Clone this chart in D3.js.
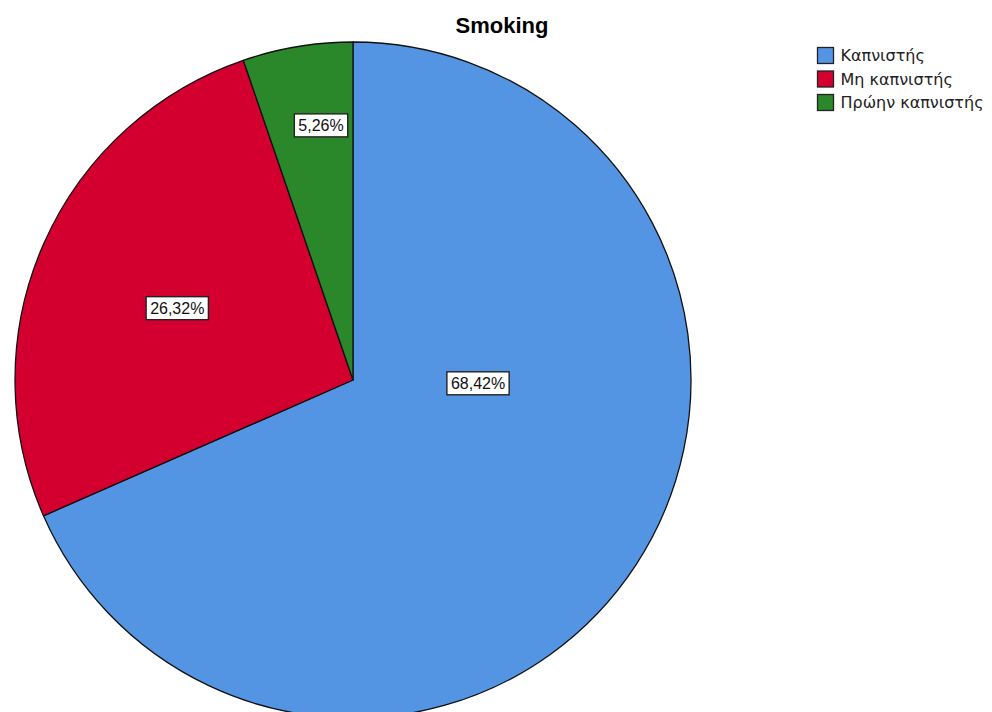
<!DOCTYPE html>
<html><head><meta charset="utf-8">
<script src="https://cdn.jsdelivr.net/npm/d3@7"></script>
<style>body{margin:0;background:#fff;} svg{display:block;}</style>
</head><body>
<svg id="chart" width="992" height="712"></svg>
<script>
const title = "Smoking";
const categories = ["Καπνιστής", "Μη καπνιστής", "Πρώην καπνιστής"];
const values = [68.42, 26.32, 5.26];
const labels = ["68,42%", "26,32%", "5,26%"];
const colors = ["#5495e3", "#d3002f", "#2a872a"];

const svg = d3.select("#chart");
const cx = 353, cy = 380, R = 338;

svg.append("text").attr("x", 502).attr("y", 33).attr("text-anchor", "middle")
  .attr("font-family", "Liberation Sans, Arial, sans-serif").attr("font-weight", "bold")
  .attr("font-size", 22).attr("fill", "#000").text(title);

const data = categories.map((c, i) => ({cat: c, value: values[i], label: labels[i], color: colors[i]}));
const pie = d3.pie().value(d => d.value).sort(null);
const arcs = pie(data);
const arc = d3.arc().innerRadius(0).outerRadius(R);

const g = svg.append("g").attr("transform", `translate(${cx},${cy})`);
g.selectAll("path").data(arcs).join("path")
  .attr("d", arc).attr("fill", d => d.data.color)
  .attr("stroke", "#111").attr("stroke-width", 1.3).attr("stroke-linejoin", "round");

// label placement (polar: angle in degrees clockwise from top, fraction of radius)
const labelPlace = [[91.4, 0.37], [292.3, 0.562], [352.85, 0.76]];
const lg = g.selectAll("g.lab").data(arcs).join("g").attr("class", "lab")
  .attr("transform", (d, i) => {
    const a = labelPlace[i][0] * Math.PI / 180, r = labelPlace[i][1] * R;
    return `translate(${r * Math.sin(a)},${-r * Math.cos(a)})`;
  });
lg.each(function(d) {
  const s = d3.select(this);
  const t = s.append("text").attr("text-anchor", "middle").attr("dy", "0.36em")
    .attr("font-family", "Liberation Sans, Arial, sans-serif").attr("font-size", 16)
    .attr("fill", "#111").text(d.data.label);
  const b = t.node().getBBox();
  s.insert("rect", "text").attr("x", b.x - 4).attr("y", b.y - 3)
    .attr("width", b.width + 8).attr("height", b.height + 6)
    .attr("fill", "#fff").attr("stroke", "#222").attr("stroke-width", 1.4);
});

// legend
const leg = svg.append("g").attr("transform", "translate(817.5,47.5)");
const li = leg.selectAll("g").data(data).join("g").attr("transform", (d, i) => `translate(0,${i * 23.5})`);
li.append("rect").attr("width", 16).attr("height", 16).attr("fill", d => d.color)
  .attr("stroke", "#222").attr("stroke-width", 1.3);
li.append("text").attr("x", 23).attr("y", 8).attr("dy", "0.36em")
  .attr("font-family", "DejaVu Sans, Verdana, sans-serif").attr("font-size", 16)
  .attr("fill", "#222").text(d => d.cat);
</script>
</body></html>
